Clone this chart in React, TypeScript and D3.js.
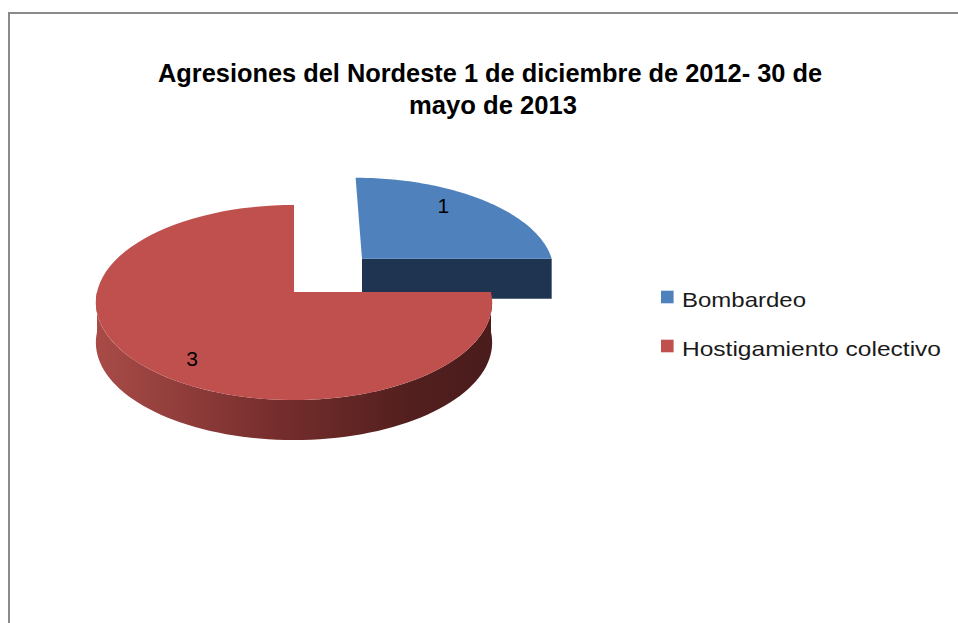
import React from 'react';
import * as d3 from 'd3';

// ---- data ----
const categories: string[] = ['Bombardeo', 'Hostigamiento colectivo'];
const values: number[] = [1, 3];
const titleLines: string[] = ['Agresiones del Nordeste 1 de diciembre de 2012- 30 de', 'mayo de 2013'];

// ---- styles ----
const topColors = ['#4f81bd', '#c0504d'];
const sideColors = ['#1f3450', '#7a2f2d'];
const explode = [0.507, 0];

const W = 958;
const H = 623;
const CX = 294;
const CY = 292;
const RX = 197;
const RY = 96.4;
const K = 0.1077; // perspective
const DEPTH = 40;
const FONT = "'Liberation Sans', Arial, sans-serif";

// perspective projection of a point on the pie (X right, Z toward viewer, t: 0 top .. 1 bottom)
const xScale = d3.scaleLinear().domain([-1, 1]).range([CX - RX, CX + RX]);
const yScale = d3.scaleLinear().domain([-1, 1]).range([CY - RY, CY + RY]);
function proj(X: number, Z: number, t: number): [number, number] {
  const s = 1 / (1 - K * Z);
  return [xScale(X * s), yScale(Z * s) + DEPTH * t];
}

const line = d3.line<[number, number]>().x(d => d[0]).y(d => d[1]);

function samples(a0: number, a1: number, n = 80): number[] {
  return d3.range(n + 1).map(i => a0 + ((a1 - a0) * i) / n);
}

export default function App() {
  const pie = d3.pie<number>().sort(null).value(d => d);
  const arcs = pie(values);

  const slices = arcs.map((a, i) => {
    const mid = (a.startAngle + a.endAngle) / 2;
    const e = explode[i];
    const ox = e * Math.sin(mid);
    const oz = -e * Math.cos(mid);
    const pt = (ang: number, r: number, t: number) =>
      proj(ox + r * Math.sin(ang), oz - r * Math.cos(ang), t);

    const topPts: [number, number][] = [pt(0, 0, 0), ...samples(a.startAngle, a.endAngle).map(g => pt(g, 1, 0))];
    const top = line(topPts) + 'Z';

    let wall: string | null = null;
    const lo = Math.max(a.startAngle, Math.PI / 2);
    const hi = Math.min(a.endAngle, (3 * Math.PI) / 2);
    if (hi - lo > 1e-6) {
      const s = samples(lo, hi);
      const pts: [number, number][] = [
        ...s.map(g => pt(g, 1, 0)),
        ...s.slice().reverse().map(g => pt(g, 1, 1)),
      ];
      wall = line(pts) + 'Z';
    }

    const faces: string[] = [];
    if (Math.sin(a.endAngle) > 1e-6) {
      const g = a.endAngle;
      faces.push(line([pt(g, 0, 0), pt(g, 1, 0), pt(g, 1, 1), pt(g, 0, 1)]) + 'Z');
    }
    if (Math.sin(a.startAngle) < -1e-6) {
      const g = a.startAngle;
      faces.push(line([pt(g, 0, 0), pt(g, 1, 0), pt(g, 1, 1), pt(g, 0, 1)]) + 'Z');
    }

    const la = mid - 0.14;
    const labelPos = pt(la, 0.8, 0);
    return { i, top, wall, faces, labelPos, value: a.data };
  });

  return (
    <svg width={W} height={H} style={{ position: 'absolute', left: 0, top: 0, background: '#fff' }}>
      <defs>
        <linearGradient id="redWall" gradientUnits="userSpaceOnUse" x1={CX - RX} x2={CX + RX} y1={0} y2={0}>
          <stop offset="0" stopColor="#a84b47" />
          <stop offset="0.45" stopColor="#762e2d" />
          <stop offset="0.8" stopColor="#521f1e" />
          <stop offset="1" stopColor="#4a1c1c" />
        </linearGradient>
      </defs>
      <rect x={0} y={0} width={W} height={H} fill="#fff" />
      {/* chart border */}
      <line x1={9} y1={13} x2={W} y2={13} stroke="#8a8a8a" strokeWidth={2} />
      <line x1={9} y1={12} x2={9} y2={H} stroke="#8a8a8a" strokeWidth={2} />

      {/* title */}
      <text x={490} y={82} textAnchor="middle" fontFamily={FONT} fontWeight="bold" fontSize={25}
        fill="#000" textLength={664} lengthAdjust="spacingAndGlyphs">{titleLines[0]}</text>
      <text x={493} y={114} textAnchor="middle" fontFamily={FONT} fontWeight="bold" fontSize={25}
        fill="#000" textLength={168} lengthAdjust="spacingAndGlyphs">{titleLines[1]}</text>

      {/* pie */}
      {slices.map(s => (
        <g key={s.i}>
          {s.faces.map((f, j) => (
            <path key={j} d={f} fill={sideColors[s.i]} />
          ))}
          {s.wall && <path d={s.wall} fill={s.i === 1 ? 'url(#redWall)' : sideColors[s.i]} />}
          <path d={s.top} fill={topColors[s.i]} />
        </g>
      ))}
      {slices.map(s => (
        <text key={'l' + s.i} x={s.labelPos[0]} y={s.labelPos[1]} dy="0.36em" textAnchor="middle"
          fontFamily={FONT} fontSize={21} fill="#000">{s.value}</text>
      ))}

      {/* legend */}
      {categories.map((c, i) => (
        <g key={c} transform={`translate(661, ${297 + i * 49})`}>
          <rect x={0} y={-6.3} width={12.6} height={12.6} fill={topColors[i]} />
          <text x={21} y={9.6} fontFamily={FONT} fontSize={21} fill="#1a1a1a"
            textLength={i === 0 ? 124 : 259} lengthAdjust="spacingAndGlyphs">{c}</text>
        </g>
      ))}
    </svg>
  );
}
